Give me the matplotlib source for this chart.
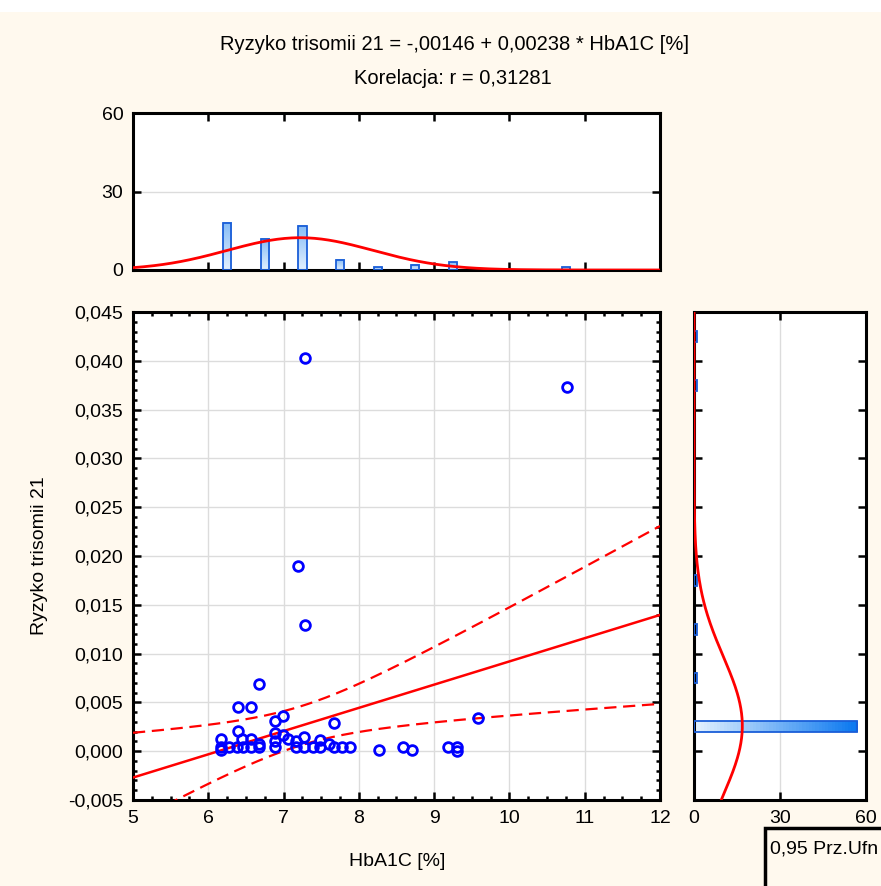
import numpy as np
import matplotlib
matplotlib.use("Agg")
import matplotlib.pyplot as plt
from matplotlib.patches import Rectangle
from matplotlib.colors import LinearSegmentedColormap
from matplotlib.ticker import FuncFormatter, MultipleLocator

# --------------------------------------------------
# data
# --------------------------------------------------
hba1c = [7.28, 10.77, 7.19, 7.28, 6.68,
         6.39, 6.57, 6.99, 6.89, 7.67, 9.58,
         6.39, 6.89, 6.99, 6.17, 6.45, 6.57, 7.06, 7.27, 6.89, 7.16, 7.48, 7.60, 6.68,
         6.17, 6.27, 6.38, 6.46, 6.57, 6.68, 6.89, 7.16, 7.27, 7.39, 7.48, 7.67, 7.78, 7.88,
         6.17, 8.27, 8.59, 8.70, 9.19, 9.31, 9.31]
risk = [0.0403, 0.0373, 0.0190, 0.0129, 0.0069,
        0.0045, 0.0045, 0.0036, 0.0031, 0.0029, 0.0034,
        0.0021, 0.0019, 0.0017, 0.00125, 0.00125, 0.00125, 0.0012, 0.0015, 0.0010, 0.0010, 0.0011, 0.0007, 0.0007,
        0.0004, 0.0004, 0.0004, 0.0004, 0.0004, 0.0004, 0.0004, 0.0004, 0.0004, 0.0004, 0.0004, 0.0004, 0.0004, 0.0004,
        0.0001, 0.0001, 0.0004, 0.0001, 0.0004, 0.0004, 0.0000]

# histogram of HbA1C (top)
hx_centers = [5.75, 6.25, 6.75, 7.25, 7.75, 8.25, 8.75, 9.25, 9.75, 10.25, 10.75]
hx_counts = [0, 18, 12, 17, 4, 1, 2, 3, 0, 0, 1]

# histogram of risk (right)
hy_centers = [-0.0025, 0.0025, 0.0075, 0.0125, 0.0175, 0.0225, 0.0275, 0.0325, 0.0375, 0.0425]
hy_counts = [0, 57, 1, 1, 1, 0, 0, 0, 1, 1]

# fit parameters
b0, b1 = -0.0146, 0.00238
x_bar = 7.22
ci_hw0 = 0.0020      # half width of 0.95 band at x_bar
ci_k = 0.00186       # growth of half width
n_obs = 60
x_mean, x_sd = 7.22, 0.97
y_mean, y_sd = 0.0026, 0.0071

title1 = "Ryzyko trisomii 21 = -,00146 + 0,00238 * HbA1C [%]"
title2 = "Korelacja: r = 0,31281"

# --------------------------------------------------
# style
# --------------------------------------------------
plt.rcParams["font.family"] = ["Liberation Sans", "DejaVu Sans"]
bg = "#FFF9EE"
red = "#FF0000"
fs = 14

W, H = 881, 886
fig = plt.figure(figsize=(W / 100, H / 100), dpi=100, facecolor=bg)

def box(l, t, r, b):
    return [l / W, 1 - b / H, (r - l) / W, (b - t) / H]

ax = fig.add_axes(box(133, 312, 660, 800))
axt = fig.add_axes(box(133, 113, 660, 270))
axr = fig.add_axes(box(694, 312, 866, 800))

# white strip on the very top
fig.patches.append(Rectangle((0, 1 - 12 / H), 1, 12 / H, transform=fig.transFigure,
                             facecolor="white", edgecolor="none", zorder=0))

def comma(v, pos):
    s = f"{v:.3f}".replace(".", ",")
    if s == "-0,000":
        s = "0,000"
    return s

def style(a):
    a.set_facecolor("white")
    for sp in a.spines.values():
        sp.set_linewidth(2.2)
    a.tick_params(which="both", direction="in", top=True, right=True,
                  labelsize=fs, width=1.8, pad=7)
    a.tick_params(which="major", length=6)
    a.tick_params(which="minor", length=3)

# --------------------------------------------------
# main scatter
# --------------------------------------------------
style(ax)
ax.set_xlim(5, 12)
ax.set_ylim(-0.005, 0.045)
ax.xaxis.set_major_locator(MultipleLocator(1))
ax.xaxis.set_minor_locator(MultipleLocator(0.25))
ax.yaxis.set_major_locator(MultipleLocator(0.005))
ax.yaxis.set_minor_locator(MultipleLocator(0.001))
ax.yaxis.set_major_formatter(FuncFormatter(comma))
ax.grid(True, which="major", color="#DCDCDC", lw=1.0)
ax.set_axisbelow(True)

xs = np.linspace(5, 12, 200)
fit = b0 + b1 * xs
hw = np.sqrt(ci_hw0 ** 2 + (ci_k * (xs - x_bar)) ** 2)
ax.plot(xs, fit, color=red, lw=1.8, zorder=3)
ax.plot(xs, fit + hw, color=red, lw=1.6, ls=(0, (5.5, 3)), zorder=3)
ax.plot(xs, fit - hw, color=red, lw=1.6, ls=(0, (5.5, 3)), zorder=3)
ax.plot(hba1c, risk, "o", ms=7, mfc="none", mec="#0000FF", mew=2.0, zorder=4)

# --------------------------------------------------
# top histogram
# --------------------------------------------------
style(axt)
axt.xaxis.set_major_locator(MultipleLocator(1))
axt.yaxis.set_major_locator(MultipleLocator(30))
axt.tick_params(labelbottom=False)
axt.grid(True, axis="y", color="#DCDCDC", lw=1.0)
axt.set_axisbelow(True)

cm_v = LinearSegmentedColormap.from_list("g", ["#E2F0FF", "#86BCF6"])
grad_v = np.linspace(0, 1, 50).reshape(-1, 1)
bw_x = 0.11
for c, n in zip(hx_centers, hx_counts):
    if n <= 0:
        continue
    axt.imshow(grad_v, extent=(c - bw_x / 2, c + bw_x / 2, 0, n), origin="lower",
               cmap=cm_v, aspect="auto", zorder=2)
    axt.add_patch(Rectangle((c - bw_x / 2, 0), bw_x, n, facecolor="none",
                            edgecolor="#1A5ED8", lw=1.3, zorder=3))
axt.set_xlim(5, 12)
axt.set_ylim(0, 60)
xc = np.linspace(5, 12, 300)
axt.plot(xc, n_obs * 0.5 / (x_sd * np.sqrt(2 * np.pi)) * np.exp(-0.5 * ((xc - x_mean) / x_sd) ** 2),
         color=red, lw=2.0, zorder=4)

# --------------------------------------------------
# right histogram
# --------------------------------------------------
style(axr)
axr.xaxis.set_major_locator(MultipleLocator(30))
axr.yaxis.set_major_locator(MultipleLocator(0.005))
axr.tick_params(labelleft=False)
axr.grid(True, axis="x", color="#DCDCDC", lw=1.0)
axr.set_axisbelow(True)

cm_h = LinearSegmentedColormap.from_list("h", ["#E4F2FF", "#0A78F0"])
grad_h = np.linspace(0, 1, 50).reshape(1, -1)
bw_y = 0.0011
for c, n in zip(hy_centers, hy_counts):
    if n <= 0:
        continue
    axr.imshow(grad_h, extent=(0, n, c - bw_y / 2, c + bw_y / 2), origin="lower",
               cmap=cm_h, aspect="auto", zorder=2)
    axr.add_patch(Rectangle((0, c - bw_y / 2), n, bw_y, facecolor="none",
                            edgecolor="#1A5ED8", lw=1.3, zorder=3))
axr.set_xlim(0, 60)
axr.set_ylim(-0.005, 0.045)
yc = np.linspace(-0.006, 0.045, 300)
axr.plot(n_obs * 0.005 / (y_sd * np.sqrt(2 * np.pi)) * np.exp(-0.5 * ((yc - y_mean) / y_sd) ** 2),
         yc, color=red, lw=2.0, zorder=4)

# --------------------------------------------------
# texts
# --------------------------------------------------
fig.text(454 / W, 1 - 44 / H, title1, ha="center", va="center", fontsize=14.5)
fig.text(453 / W, 1 - 78 / H, title2, ha="center", va="center", fontsize=14.5)
fig.text(40 / W, 1 - 556 / H, "Ryzyko trisomii 21", rotation=90, ha="center", va="center", fontsize=fs)
fig.text(397 / W, 1 - 862 / H, "HbA1C [%]", ha="center", va="center", fontsize=fs)

# legend box, running off the figure edge
fig.patches.append(Rectangle((765 / W, -0.1), 0.5, 0.1 + 1 - 828 / H, transform=fig.transFigure,
                             facecolor=bg, edgecolor="black", lw=2.5, zorder=5))
fig.text(770 / W, 1 - 849 / H, "0,95 Prz.Ufn", ha="left", va="center", fontsize=fs, zorder=6)

fig.savefig("out.png", dpi=100, facecolor=bg)
